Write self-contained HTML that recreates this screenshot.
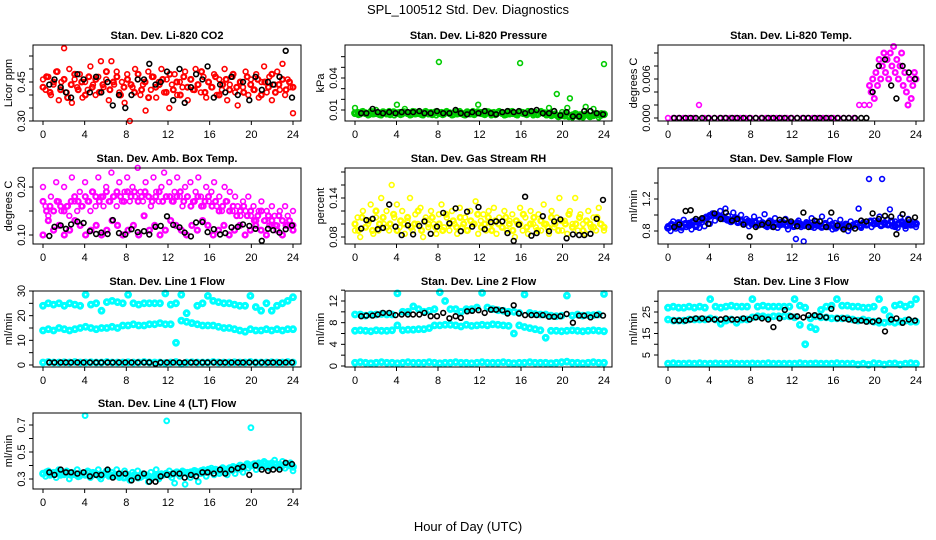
<!DOCTYPE html>
<html><head><meta charset="utf-8"><style>
body{margin:0;background:#fff}
svg{display:block;font-family:"Liberation Sans",Arial,sans-serif}
</style></head><body>
<svg id="c" width="936" height="540" viewBox="0 0 936 540">
<text x="468" y="14" text-anchor="middle" font-size="13">SPL_100512  Std. Dev. Diagnostics</text>
<text x="468" y="531" text-anchor="middle" font-size="13">Hour of Day (UTC)</text>
</svg>
<script>
const xTicks=[0,4,8,12,16,20,24];
const blackHours=[0.6,1.1,1.7,2.2,2.7,3.3,3.9,4.5,5.1,5.6,6.2,6.7,7.3,7.9,8.5,9.1,9.7,10.2,10.8,11.3,11.9,12.5,13.1,13.6,14.2,14.7,15.3,15.8,16.4,17,17.5,18.1,18.7,19.2,19.8,20.4,21,21.6,22.1,22.7,23.3,23.9];

const co2Red=[0.46,0.42,0.47,0.40,0.44,0.49,0.38,0.45,0.58,0.41,0.50,0.37,0.46,0.43,0.48,0.39,0.45,0.42,0.51,0.44,0.40,0.47,0.53,0.43,0.46,0.38,0.53,0.44,0.49,0.41,0.45,0.37,0.48,0.30,0.43,0.50,0.46,0.40,0.44,0.34,0.49,0.42,0.47,0.39,0.45,0.50,0.41,0.46,0.35,0.44,0.48,0.40,0.45,0.43,0.49,0.38,0.46,0.42,0.50,0.44,0.41,0.47,0.39,0.45,0.43,0.48,0.40,0.46,0.42,0.50,0.38,0.44,0.47,0.41,0.36,0.45,0.43,0.49,0.40,0.46,0.42,0.48,0.39,0.45,0.51,0.41,0.47,0.38,0.44,0.49,0.42,0.52,0.40,0.46,0.43,0.33];
const co2Red2=[0.43,0.47,0.41,0.45,0.49,0.42,0.46,0.39,0.44,0.48,0.42,0.45,0.40,0.47,0.43,0.46,0.41,0.44,0.49,0.42,0.45,0.47,0.40,0.43,0.46,0.44,0.41,0.48,0.42,0.45,0.39,0.47,0.43,0.44,0.46,0.41,0.48,0.42,0.45,0.40,0.47,0.43,0.46,0.42,0.44,0.49,0.41,0.45,0.43,0.47,0.40,0.44,0.46,0.42,0.48,0.43,0.45,0.41,0.47,0.44,0.42,0.46,0.40,0.45,0.43,0.48,0.41,0.44,0.46,0.42,0.45,0.43];
const co2Black=[0.44,0.46,0.43,0.41,0.39,0.48,0.46,0.41,0.47,0.41,0.45,0.36,0.40,0.35,0.40,0.46,0.46,0.52,0.44,0.45,0.49,0.38,0.50,0.37,0.43,0.48,0.46,0.51,0.39,0.44,0.41,0.47,0.40,0.45,0.38,0.47,0.42,0.45,0.44,0.47,0.57,0.39];
const pressGreen=[0.012,0.008,0.006,0.009,0.007,0.005,0.009,0.006,0.010,0.007,0.005,0.008,0.006,0.009,0.007,0.005,0.015,0.008,0.006,0.011,0.007,0.005,0.009,0.006,0.008,0.007,0.005,0.009,0.006,0.008,0.007,0.005,0.055,0.008,0.006,0.009,0.007,0.005,0.008,0.006,0.009,0.007,0.005,0.008,0.006,0.009,0.007,0.015,0.008,0.006,0.009,0.007,0.005,0.008,0.006,0.009,0.007,0.005,0.008,0.006,0.009,0.007,0.005,0.054,0.008,0.006,0.009,0.007,0.005,0.008,0.006,0.009,0.007,0.005,0.012,0.006,0.009,0.025,0.005,0.008,0.004,0.012,0.021,0.003,0.007,0.004,0.006,0.003,0.013,0.005,0.004,0.011,0.006,0.003,0.007,0.053];
const pressGreen2=[0.007,0.006,0.008,0.007,0.006,0.008,0.007,0.006,0.008,0.007,0.006,0.008,0.007,0.006,0.008,0.007,0.006,0.008,0.007,0.006,0.008,0.007,0.006,0.008,0.007,0.006,0.008,0.007,0.006,0.008,0.007,0.006,0.008,0.007,0.006,0.008,0.007,0.006,0.008,0.007,0.006,0.008,0.007,0.006,0.008,0.007,0.006,0.008,0.007,0.006,0.008,0.007,0.006,0.008,0.007,0.006,0.005,0.006,0.004,0.005,0.006,0.004,0.005,0.006,0.004,0.005,0.006,0.004,0.005,0.006,0.005,0.006];
const pressBlack=[0.007,0.007,0.011,0.008,0.007,0.008,0.007,0.008,0.008,0.008,0.009,0.007,0.007,0.009,0.007,0.007,0.010,0.007,0.006,0.008,0.007,0.009,0.007,0.006,0.008,0.009,0.008,0.009,0.007,0.009,0.010,0.007,0.007,0.009,0.005,0.008,0.004,0.004,0.009,0.009,0.007,0.006];
const tempMagEarly=[0,0,0,0,0,0,0.002,0,0,0,0,0,0,0,0,0,0,0,0,0,0,0,0,0,0,0,0,0,0,0,0,0,0,0,0,0,0,0.002,0.002,0.002];
const tempMagLate=[0.005,0.004,0.006,0.003,0.007,0.005,0.009,0.006,0.008,0.010,0.007,0.009,0.006,0.010,0.008,0.011,0.007,0.009,0.006,0.008,0.010,0.005,0.007,0.004,0.002,0.006,0.003,0.005,0.007,0.006];
const tempBlack=[0,0,0,0,0,0,0,0,0,0,0,0,0,0,0,0,0,0,0,0,0,0,0,0,0,0,0,0,0,0,0,0,0,0,0.004,0.008,0.009,0.005,0.003,0.008,0.007,0.006];
const ambUpper=[0.20,0.16,0.14,0.18,0.15,0.21,0.17,0.15,0.20,0.16,0.14,0.22,0.17,0.15,0.19,0.16,0.21,0.17,0.15,0.19,0.16,0.22,0.18,0.16,0.20,0.17,0.23,0.18,0.16,0.21,0.17,0.19,0.22,0.17,0.20,0.18,0.24,0.19,0.17,0.21,0.18,0.16,0.22,0.19,0.17,0.20,0.23,0.18,0.21,0.17,0.19,0.22,0.18,0.16,0.20,0.18,0.21,0.17,0.19,0.22,0.18,0.16,0.20,0.17,0.19,0.21,0.16,0.18,0.15,0.20,0.17,0.19,0.15,0.18,0.16,0.14,0.17,0.15,0.18,0.14,0.16,0.13,0.15,0.17,0.13,0.15,0.12,0.16,0.14,0.12,0.15,0.13,0.16,0.14,0.12,0.15];
const ambMid=[0.17,0.15,0.16,0.15,0.17,0.16,0.15,0.16,0.17,0.18,0.17,0.16,0.18,0.17,0.19,0.18,0.17,0.18,0.19,0.17,0.18,0.19,0.18,0.17,0.19,0.18,0.19,0.17,0.18,0.19,0.18,0.17,0.18,0.19,0.17,0.18,0.18,0.17,0.18,0.19,0.17,0.18,0.16,0.17,0.18,0.16,0.17,0.18,0.16,0.17,0.15,0.16,0.17,0.15,0.16,0.14,0.15,0.16,0.14,0.15,0.13,0.14,0.15,0.13,0.14,0.13,0.12,0.14,0.13,0.12,0.13,0.12];
const ambLower=[0.10,0.13,0.11,0.12,0.10,0.11,0.13,0.12,0.10,0.11,0.12,0.10,0.11,0.13,0.12,0.10,0.11,0.12,0.10,0.14,0.11,0.12,0.10,0.11,0.13,0.12,0.11,0.10,0.12,0.11,0.13,0.12,0.10,0.11,0.12,0.10,0.11,0.12,0.10,0.11,0.12,0.11,0.10,0.12,0.11,0.10,0.12,0.11];
const ambBlack=[0.098,0.117,0.12,0.113,0.122,0.128,0.125,0.108,0.102,0.105,0.102,0.131,0.104,0.101,0.112,0.106,0.108,0.101,0.117,0.119,0.139,0.121,0.116,0.105,0.097,0.126,0.127,0.106,0.112,0.101,0.104,0.116,0.117,0.122,0.119,0.113,0.088,0.113,0.110,0.105,0.112,0.12];
const rhYellow=[0.09,0.11,0.08,0.12,0.095,0.10,0.13,0.085,0.11,0.09,0.14,0.10,0.12,0.09,0.16,0.11,0.13,0.095,0.12,0.085,0.105,0.14,0.09,0.115,0.10,0.125,0.08,0.11,0.095,0.12,0.10,0.085,0.115,0.13,0.095,0.11,0.09,0.12,0.10,0.085,0.125,0.095,0.11,0.09,0.12,0.10,0.135,0.085,0.105,0.115,0.09,0.12,0.10,0.125,0.085,0.11,0.095,0.12,0.09,0.105,0.115,0.08,0.10,0.125,0.09,0.11,0.085,0.12,0.10,0.095,0.115,0.09,0.13,0.10,0.085,0.12,0.095,0.11,0.14,0.09,0.105,0.085,0.12,0.10,0.14,0.09,0.115,0.10,0.085,0.12,0.095,0.11,0.09,0.125,0.10,0.09];
const rhYellow2=[0.10,0.09,0.11,0.095,0.105,0.09,0.12,0.10,0.11,0.095,0.10,0.115,0.09,0.105,0.10,0.11,0.095,0.10,0.12,0.09,0.105,0.10,0.11,0.095,0.10,0.09,0.115,0.10,0.105,0.095,0.11,0.10,0.09,0.105,0.10,0.115,0.095,0.10,0.11,0.09,0.105,0.10,0.095,0.11,0.10,0.09,0.105,0.10,0.115,0.095,0.10,0.11,0.09,0.105,0.10,0.095,0.11,0.10,0.09,0.105,0.10,0.115,0.095,0.10,0.11,0.09,0.105,0.10,0.095,0.11,0.10,0.095];
const rhBlack=[0.093,0.106,0.108,0.092,0.094,0.130,0.096,0.083,0.098,0.084,0.097,0.104,0.085,0.096,0.117,0.101,0.124,0.089,0.119,0.096,0.126,0.092,0.103,0.104,0.104,0.086,0.074,0.099,0.142,0.082,0.086,0.112,0.089,0.104,0.107,0.078,0.084,0.083,0.083,0.085,0.108,0.137];
const sfBlue=[0.86,0.80,0.92,0.83,0.88,0.81,0.94,0.85,0.90,0.82,0.93,0.87,0.84,0.91,0.86,0.96,0.89,1.02,0.93,0.98,1.05,0.95,1.08,0.99,0.94,1.03,0.97,0.91,1.00,0.88,0.95,0.86,0.92,0.98,0.87,0.94,0.90,1.01,0.85,0.93,0.89,0.96,0.84,0.91,0.88,0.95,0.82,0.90,0.87,0.70,0.93,0.85,0.67,0.91,0.88,0.96,0.84,0.92,0.87,0.98,0.89,0.85,0.93,0.82,0.90,0.86,0.94,0.83,0.89,0.80,0.92,0.86,0.88,1.08,0.84,0.91,0.87,1.45,0.85,0.93,0.89,0.98,1.45,0.88,0.94,1.07,0.86,0.92,0.84,0.97,0.88,0.83,0.95,0.87,0.91,0.85];
const sfBlue2=[0.84,0.88,0.86,0.90,0.85,0.89,0.87,0.91,0.86,0.93,0.95,0.97,0.99,1.01,1.00,0.98,0.96,0.94,0.92,0.95,0.91,0.93,0.90,0.92,0.89,0.91,0.88,0.90,0.87,0.91,0.86,0.89,0.88,0.90,0.87,0.89,0.86,0.90,0.88,0.87,0.89,0.86,0.88,0.87,0.85,0.89,0.86,0.88,0.84,0.87,0.86,0.88,0.85,0.87,0.89,0.86,0.90,0.88,0.92,0.89,0.91,0.87,0.90,0.88,0.92,0.86,0.89,0.91,0.87,0.90,0.88,0.89];
const sfBlack=[0.85,0.88,1.05,1.06,0.95,0.96,0.89,1.02,0.95,1.03,0.93,0.95,0.88,0.73,0.85,0.88,0.90,0.85,0.94,0.94,0.92,0.86,1.03,0.85,0.93,0.92,0.85,1.03,0.87,0.82,0.86,0.83,0.93,0.92,1.02,0.95,0.99,0.98,0.76,1.01,0.94,0.97];
const l1Top=[24,25,24.5,25,24,25,24.5,24,28.5,24.5,25,22,25.5,26,25.5,25,28.5,25,24.5,25,25,25,25,29,24.5,25,28.5,21,17,24,25,28,26,25.5,25,25,24.5,24,24,28,23.5,22,25,22,24,25,26,27.5];
const l1Mid=[14,14.5,14,15,14.5,14,14.5,15,15.5,15,14.5,15,15,15.5,15,16,16,16.5,16,16,16.5,16.5,17,16.5,16.5,9,18,17.5,17,16.5,16,16,16,15.5,15,15,14.5,14,13.5,14.5,14,14,14.5,14,14.5,14,14.5,14.5];
const l1Bot=[1,1.2,1,1,1.1,1,1.2,1,1,1.1,1,1,1.2,1,1,1,1.1,1,1,1.2,1,1,1,0.8,1,1.2,0.5,1,1.1,1,1,1,1.2,1,1,1,1.1,1,1,1.2,1,1,1,1.1,1,1,1.2,1];
const l1Black=[1,1,1,1,1,1,1,1,1,1,1,1,1,1,1,1,1,1,0.5,1,1,1,1,1,1,1,1,1,1,1,1,1,1,1,1,1,1,1,1,1,1,1];
const l2Top=[9.5,9.5,9.3,9.5,9.5,9.6,9.5,9.5,13.4,10,10,11,10.5,10,10.2,10.5,13.6,12,10.5,10.5,10,10.5,10.5,10.8,13.5,10.8,10.5,10.3,10.2,10,10,9.8,13.2,9.8,9.6,9.5,9.5,9.3,9.2,9.3,13,9.3,9.5,9.3,9.4,9.4,9.5,13.3];
const l2Mid=[6.5,6.6,6.5,6.4,6.6,6.5,6.5,6.6,7.5,6.6,6.7,6.7,6.8,6.8,7,7.5,7.5,7.6,7.6,7.5,7.3,7.6,7.4,7.5,7.6,7.5,7.7,7.6,7.5,7.4,6,7.5,7.2,7,6.8,6.6,5.2,6.5,6.5,6.4,6.5,6.6,6.5,6.4,6.5,6.6,6.5,6.4];
const l2Bot=[0.6,0.7,0.6,0.5,0.6,0.7,0.6,0.6,0.5,0.6,0.7,0.6,0.6,0.6,0.7,0.6,0.5,0.6,0.6,0.7,0.6,0.6,0.5,0.6,0.7,0.6,0.6,0.6,0.7,0.6,0.5,0.6,0.6,0.7,0.6,0.6,0.6,0.5,0.6,0.7,0.8,0.6,0.6,0.5,0.6,0.7,0.6,0.6];
const l2Black=[9.2,9.3,9.3,9.5,9.8,9.8,9.4,9.5,9.5,9.5,9.5,9.8,9.2,9.2,9.8,8.8,9.2,8.9,10.1,10.2,10.3,9.8,10.4,10.4,10.3,9.7,11.2,9.7,9.4,9.4,9.4,9.4,9.1,9.1,9.2,9.6,8,9.3,9.3,9,9.4,9.3];
const l3Top=[27,27.5,27,27,27.5,27,27.5,27,31,27.5,27,27.5,28,27.5,27.5,27.5,31,27.5,28,27.5,27.5,27.5,27.5,27.5,31,28,27,18,17,26,27.5,28,31,28,28,27.5,27.5,27,27,27.5,31,26,23,28,28.5,27.5,28.5,31];
const l3Mid=[21.5,21,21,21,21.5,21.5,21.5,21.5,22,21.5,19.5,21,21.5,20,21.5,21.5,22.5,23,23,22.5,23,23,23,23,22.5,19,10,22,23,22.5,22.5,22,22,22,22,21.5,21,21.5,21,20.5,20,20,20.5,20,20.5,21,20.5,20.5];
const l3Bot=[1,1.2,1,1,1.1,1,1.2,1,1,1.1,1,1,1.2,1,1,1,1.1,1,1,1.2,1,1,1,1,1,1.2,1,1,1.1,1,1,1,1.2,1,1,1,0.6,1,0.5,1.2,1,0.6,1,1.1,0.6,1,1.2,1];
const l3Black=[21,21,21,21.5,22,22,21.5,21.5,21.5,22,21.5,21.5,22,21.5,22.5,22,21.5,18,22,26,23,23,22.5,23.5,23.5,23,22.5,26.5,22,22,21.5,21,21,20.5,20.5,21,16,21.5,22,20,21.5,21];
const l4Cyan=[0.34,0.32,0.36,0.33,0.35,0.31,0.37,0.34,0.33,0.36,0.30,0.35,0.33,0.37,0.32,0.34,0.77,0.36,0.31,0.35,0.33,0.37,0.30,0.34,0.36,0.32,0.35,0.33,0.37,0.31,0.34,0.36,0.33,0.29,0.35,0.32,0.36,0.31,0.34,0.33,0.28,0.35,0.32,0.37,0.30,0.34,0.33,0.73,0.36,0.31,0.27,0.34,0.32,0.36,0.26,0.35,0.31,0.33,0.36,0.28,0.34,0.37,0.32,0.35,0.38,0.33,0.36,0.34,0.37,0.35,0.33,0.38,0.36,0.34,0.39,0.37,0.35,0.40,0.38,0.68,0.41,0.37,0.42,0.39,0.43,0.40,0.38,0.42,0.44,0.39,0.41,0.43,0.38,0.40,0.42,0.36];
const l4Cyan2=[0.34,0.35,0.33,0.34,0.35,0.33,0.34,0.35,0.33,0.34,0.32,0.34,0.33,0.35,0.33,0.34,0.32,0.33,0.34,0.33,0.32,0.33,0.32,0.31,0.33,0.32,0.33,0.31,0.32,0.33,0.32,0.31,0.33,0.32,0.33,0.34,0.33,0.34,0.35,0.34,0.35,0.34,0.35,0.36,0.35,0.36,0.35,0.37,0.36,0.37,0.36,0.38,0.37,0.38,0.39,0.38,0.40,0.39,0.41,0.40,0.41,0.40,0.41,0.42,0.41,0.40,0.41,0.39,0.40,0.41,0.40,0.39];
const l4Black=[0.35,0.33,0.37,0.35,0.35,0.34,0.35,0.32,0.33,0.33,0.37,0.31,0.34,0.34,0.29,0.31,0.34,0.28,0.28,0.32,0.33,0.34,0.34,0.31,0.33,0.32,0.35,0.35,0.34,0.37,0.34,0.37,0.38,0.39,0.33,0.40,0.37,0.36,0.37,0.37,0.42,0.41];

const NS="http://www.w3.org/2000/svg";
const svg=document.getElementById('c');
const colL=[33,345,658], colR=[301,612,924], rowT=[45,168,291,413];
function mk(tag,attrs,parent){const e=document.createElementNS(NS,tag);for(const k in attrs)e.setAttribute(k,attrs[k]);(parent||svg).appendChild(e);return e;}

const panels=[
 {id:'co2',title:'Stan. Dev. Li-820 CO2',yl:'Licor ppm',c:0,r:0,v0:0.30,p0:121,v1:0.55,p1:56,ticks:[0.30,0.35,0.40,0.45,0.50,0.55],labs:['0.30','','','0.45','',''],
  series:[{v:co2Red,col:'#ff0000'},{v:co2Red2,col:'#ff0000',w:2.2},{v:co2Black,h:blackHours,col:'#000'}]},
 {id:'pressure',title:'Stan. Dev. Li-820 Pressure',yl:'kPa',c:1,r:0,v0:0.01,p0:110,v1:0.04,p1:78,ticks:[0.01,0.02,0.03,0.04,0.05,0.06],labs:['0.01','','','0.04','',''],
  series:[{v:pressGreen,col:'#00cc00'},{v:pressGreen2,col:'#00cc00',w:3},{v:pressBlack,h:blackHours,col:'#000'}]},
 {id:'temp',title:'Stan. Dev. Li-820 Temp.',yl:'degrees C',c:2,r:0,v0:0,p0:118,v1:0.006,p1:79,ticks:[0,0.002,0.004,0.006,0.008,0.010],labs:['0.000','','','0.006','',''],
  series:[{v:tempMagEarly,a:0,b:19.5,col:'#ff00ff'},{v:tempMagLate,a:19.5,b:24,col:'#ff00ff',w:2.2},{v:tempBlack,h:blackHours,col:'#000'}]},
 {id:'amb-temp',title:'Stan. Dev. Amb. Box Temp.',yl:'degrees C',c:0,r:1,v0:0.10,p0:235,v1:0.20,p1:187,ticks:[0.10,0.15,0.20],labs:['0.10','','0.20'],
  series:[{v:ambUpper,col:'#ff00ff'},{v:ambMid,col:'#ff00ff',w:2.2},{v:ambLower,col:'#ff00ff',w:2.4},{v:ambBlack,h:blackHours,col:'#000'}]},
 {id:'gas-rh',title:'Stan. Dev. Gas Stream RH',yl:'percent',c:1,r:1,v0:0.08,p0:237,v1:0.14,p1:198,ticks:[0.08,0.10,0.12,0.14,0.16,0.18],labs:['0.08','','','0.14','',''],
  series:[{v:rhYellow,col:'#ffff00'},{v:rhYellow2,col:'#ffff00',w:2.4},{v:rhBlack,h:blackHours,col:'#000'}]},
 {id:'sample-flow',title:'Stan. Dev. Sample Flow',yl:'ml/min',c:2,r:1,v0:0.8,p0:231,v1:1.2,p1:199,ticks:[0.8,1.0,1.2,1.4],labs:['0.8','','1.2',''],
  series:[{v:sfBlue,col:'#0000ff'},{v:sfBlue2,col:'#0000ff',w:3},{v:sfBlack,h:blackHours,col:'#000'}]},
 {id:'line1',title:'Stan. Dev. Line 1 Flow',yl:'ml/min',c:0,r:2,v0:0,p0:365,v1:30,p1:291,ticks:[0,5,10,15,20,25,30],labs:['0','','10','','20','','30'],
  series:[{v:l1Top,col:'#00ffff',w:3},{v:l1Mid,col:'#00ffff',w:3},{v:l1Bot,col:'#00ffff',w:3},{v:l1Black,h:blackHours,col:'#000'}]},
 {id:'line2',title:'Stan. Dev. Line 2 Flow',yl:'ml/min',c:1,r:2,v0:0,p0:366,v1:12,p1:301,ticks:[0,2,4,6,8,10,12,14],labs:['0','','4','','8','','12',''],
  series:[{v:l2Top,col:'#00ffff',w:3},{v:l2Mid,col:'#00ffff',w:3},{v:l2Bot,col:'#00ffff',w:3},{v:l2Black,h:blackHours,col:'#000'}]},
 {id:'line3',title:'Stan. Dev. Line 3 Flow',yl:'ml/min',c:2,r:2,v0:5,p0:355,v1:25,p1:312,ticks:[5,10,15,20,25,30],labs:['5','','15','','25',''],
  series:[{v:l3Top,col:'#00ffff',w:3},{v:l3Mid,col:'#00ffff',w:3},{v:l3Bot,col:'#00ffff',w:3},{v:l3Black,h:blackHours,col:'#000'}]},
 {id:'line4',title:'Stan. Dev. Line 4 (LT) Flow',yl:'ml/min',c:0,r:3,v0:0.3,p0:479,v1:0.7,p1:425,ticks:[0.3,0.4,0.5,0.6,0.7],labs:['0.3','','0.5','','0.7'],
  series:[{v:l4Cyan,col:'#00ffff',w:2},{v:l4Cyan2,col:'#00ffff',w:3},{v:l4Black,h:blackHours,col:'#000'}]}
];

panels.forEach(p=>{
  const L=colL[p.c],R=colR[p.c],T=rowT[p.r],B=T+76;
  const xs=h=>L+10+h*(R-L-18)/24;
  const ys=v=>p.p0+(v-p.v0)*(p.p1-p.p0)/(p.v1-p.v0);
  const g=mk('g',{});
  
  
  const t=mk('text',{x:(L+R)/2,y:T-6,'text-anchor':'middle','font-size':11,'font-weight':'bold'},g);
  t.textContent=p.title;
  
  
  const yl=mk('text',{x:0,y:0,'text-anchor':'middle','font-size':11,transform:`translate(${L-21},${(T+B)/2}) rotate(-90)`},g);
  yl.textContent=p.yl;
  
  
  const pg=mk('g',{fill:'none'},g);
  
  
  p.series.forEach(s=>{
    const n=s.v.length;
    const a=s.a||0, b=(s.b===undefined?24:s.b);
    s.v.forEach((v,i)=>{
      const h=s.h?s.h[i]:(a+i*(b-a)/(n-1));
      const c=mk('circle',{cx:xs(h).toFixed(1),cy:ys(v).toFixed(1),r:2.4,stroke:s.col,'stroke-width':s.w||1.6},pg);
      
      
    });
  });
  const box=mk('rect',{x:L,y:T,width:R-L,height:B-T,fill:'none',stroke:'#000','stroke-width':1},g);
  
  
  const xa=mk('g',{},g);
  
  
  xTicks.forEach(h=>{
    mk('line',{x1:xs(h),x2:xs(h),y1:B,y2:B+4,stroke:'#000'},xa);
    const tl=mk('text',{x:xs(h),y:B+17,'text-anchor':'middle','font-size':11},xa);
    tl.textContent=h;
  });
  const ya=mk('g',{},g);
  
  
  p.ticks.forEach((v,i)=>{
    const y=ys(v);
    mk('line',{x1:L-4,x2:L,y1:y,y2:y,stroke:'#000'},ya);
    if(p.labs[i]){
      const tl=mk('text',{x:0,y:0,'text-anchor':'middle','font-size':11,transform:`translate(${L-8},${y}) rotate(-90)`},ya);
      tl.textContent=p.labs[i];
    }
  });
});
</script>
</body></html>
